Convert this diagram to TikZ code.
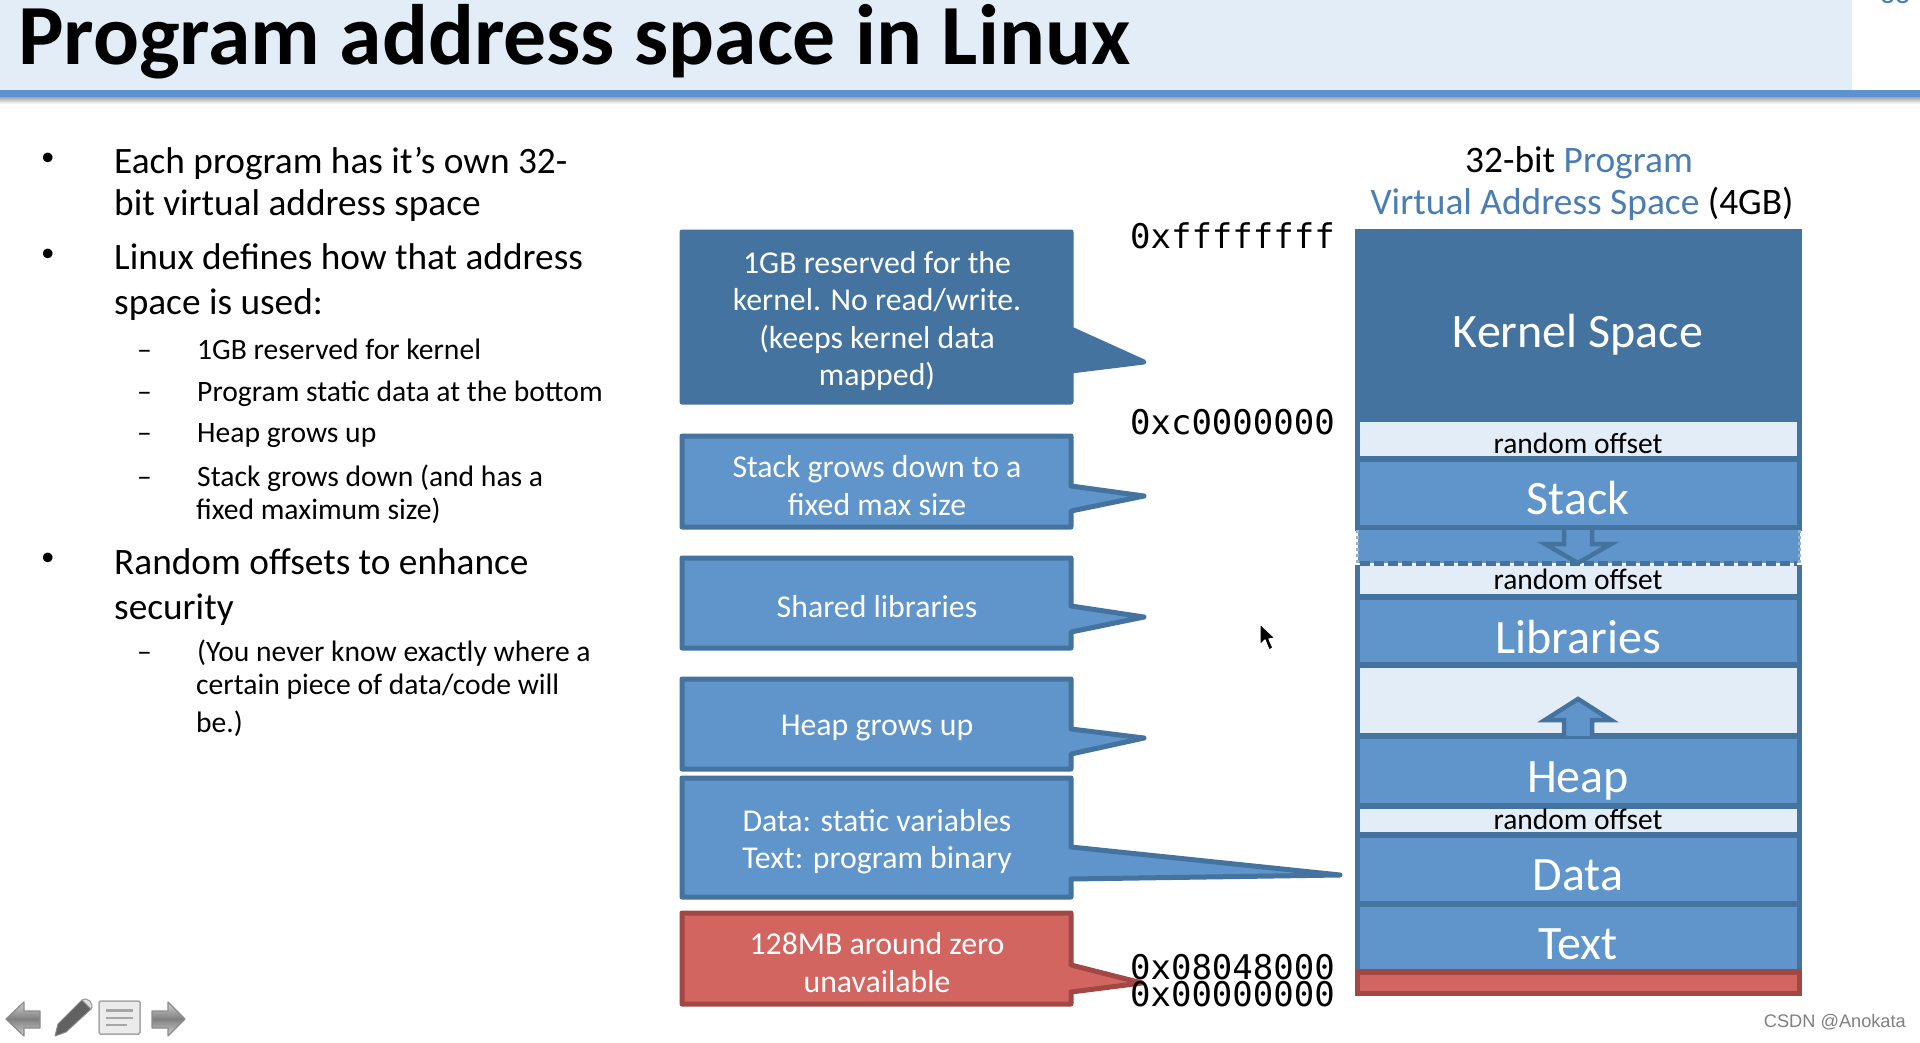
\documentclass[tikz,border=0pt]{standalone}
\usepackage{fontspec}
\setmainfont{Carlito}
\newfontfamily\addrfont{DejaVu Sans Mono}
\newfontfamily\markfont{Liberation Sans}
\definecolor{bandlight}{HTML}{E3EDF7}
\definecolor{bmid}{HTML}{5F95CB}
\definecolor{bdark}{HTML}{44739F}
\definecolor{rmid}{HTML}{D36561}
\definecolor{rdark}{HTML}{A14744}
\definecolor{titleblue}{HTML}{5B92CF}
\definecolor{txtblue}{HTML}{4A7EB3}
\tikzset{
  calloutblue/.style={fill=bmid,draw=bdark,line width=5,line join=round},
  calloutdark/.style={fill=bdark,draw=bdark,line width=5,line join=round},
  calloutred/.style={fill=rmid,draw=rdark,line width=5,line join=round},
  callouttext/.style={text=white,align=center,inner sep=0,font=\fontsize{31.8}{37.6}\selectfont},
  memfill/.style={fill=bmid,draw=bdark,line width=5.5},
  memgap/.style={fill=bandlight,draw=bdark,line width=5.5},
  memlabel/.style={text=white,inner sep=0,anchor=base,yshift=-16.2pt,font=\fontsize{48}{52}\selectfont},
  gaplabel/.style={text=black,inner sep=0,anchor=base,yshift=-10.4pt,font=\fontsize{29.5}{32}\selectfont},
  addr/.style={inner sep=0,anchor=base east,yshift=-12.4pt,font=\addrfont\fontsize{34}{36}\selectfont},
  headline/.style={inner sep=0,anchor=base,yshift=-13.2pt,font=\fontsize{37.4}{40}\selectfont},
  bigline/.style={inner sep=0,anchor=base west,yshift=-13.2pt,font=\fontsize{37.3}{40}\selectfont},
  bulletmark/.style={inner sep=0,anchor=base west,yshift=-8.7pt,font=\fontsize{27}{30}\selectfont},
  smallline/.style={inner sep=0,anchor=base west,yshift=-10.4pt,font=\fontsize{29.6}{32}\selectfont},
  navicon/.style={draw=black!45,line width=1.2,top color=black!18,bottom color=black!18,middle color=black!50,line join=round},
}
% name, ytop, ybot, tail top, tail bottom, tip x, tip y, style, text
\newcommand{\mycallout}[9]{%
  \path[#8] (682,#2) -- (1071,#2) -- (1071,#4) -- (#6,#7) -- (1071,#5) -- (1071,#3) -- (682,#3) -- cycle;
  \node[callouttext] (#1) at (877,{(#2+#3)/2+4}) {#9};
}
\begin{document}
\begin{tikzpicture}[x=1pt,y=-1pt]
\useasboundingbox (0,0) rectangle (1920,1042);
\fill[white] (0,0) rectangle (1920,1042);
% title band
\fill[bandlight] (0,0) rectangle (1852,90);
\shade[top color=black!35,bottom color=white] (0,97) rectangle (1920,104);
\fill[titleblue] (0,90) rectangle (1920,97);
\node[inner sep=0,anchor=base west,font=\bfseries\fontsize{85.7}{88}\selectfont] (title) at (18,64) {Program address space in Linux};
\begin{scope}
\clip (1870,0) rectangle (1920,5);
\node[inner sep=0,text=txtblue,font=\fontsize{30}{32}\selectfont] (pagenum) at (1895,-7) {38};
\end{scope}
% left text
\node[bulletmark] (b1) at (41,157) {•};
\node[bigline] (l1) at (114,160) {Each program has it’s own 32-};
\node[bigline] (l2) at (114,202) {bit virtual address space};
\node[bulletmark] (b2) at (41,253) {•};
\node[bigline] (l3) at (114,256) {Linux defines how that address};
\node[bigline] (l4) at (114,301) {space is used:};
\node[smallline] (d1) at (137,349) {–};
\node[smallline] (s1) at (197,349) {1GB reserved for kernel};
\node[smallline] (d2) at (137,391) {–};
\node[smallline] (s2) at (197,391) {Program static data at the bottom};
\node[smallline] (d3) at (137,432) {–};
\node[smallline] (s3) at (197,432) {Heap grows up};
\node[smallline] (d4) at (137,476) {–};
\node[smallline] (s4) at (197,476) {Stack grows down (and has a};
\node[smallline] (s5) at (196,509) {fixed maximum size)};
\node[bulletmark] (b3) at (41,557) {•};
\node[bigline] (l5) at (114,561) {Random offsets to enhance};
\node[bigline] (l6) at (114,606) {security};
\node[smallline] (d5) at (137,651) {–};
\node[smallline] (s6) at (197,651) {(You never know exactly where a};
\node[smallline] (s7) at (196,684) {certain piece of data/code will};
\node[smallline] (s8) at (196,722) {be.)};
% callouts
\mycallout{c1}{232}{402}{329}{371}{1144}{362}{calloutdark}{1GB reserved for the\\kernel. No read/write.\\(keeps kernel data\\mapped)}
\mycallout{c2}{436}{527}{486}{511}{1144}{496}{calloutblue}{Stack grows down to a\\fixed max size}
\mycallout{c3}{558}{648}{606}{632}{1144}{617}{calloutblue}{Shared libraries}
\mycallout{c4}{679}{769}{729}{754}{1144}{738}{calloutblue}{Heap grows up}
\mycallout{c5}{778}{897}{847}{879}{1340}{875}{calloutblue}{Data: static variables\\Text: program binary}
\mycallout{c6}{913}{1004}{965}{992}{1142}{983}{calloutred}{128MB around zero\\unavailable}
% addresses
\node[addr] (a1) at (1335,236) {0xffffffff};
\node[addr] (a2) at (1335,422) {0xc0000000};
\node[addr] (a3) at (1335,967) {0x08048000};
\node[addr] (a4) at (1335,994) {0x00000000};
% header
\node[headline] (h1) at (1579,159) {32-bit \textcolor{txtblue}{Program}};
\node[headline] (h2) at (1582,201) {\textcolor{txtblue}{Virtual Address Space} (4GB)};
% memory column
\path[fill=bdark,draw=bdark,line width=5.5] (1357.5,232) rectangle (1799.5,422);
\path[memgap] (1357.5,419.5) rectangle (1799.5,459);
\path[memfill] (1357.5,459) rectangle (1799.5,528);
\fill[bmid] (1357.5,530) rectangle (1799.5,563);
\draw[bdark!55!white,line width=3,dashed] (1357.5,530) -- (1357.5,563) (1799.5,530) -- (1799.5,563);
\path[fill=bandlight] (1357.5,565) rectangle (1799.5,597);
\draw[bdark,line width=5.5] (1355,597) -- (1802,597);
\draw[bdark,line width=5.5] (1357.5,565) -- (1357.5,597) (1799.5,565) -- (1799.5,597);
\path[fill=bandlight,draw=bdark,line width=5.5] (1357.5,665) rectangle (1799.5,736);
\path[memfill] (1357.5,597) rectangle (1799.5,665);
\path[memfill] (1357.5,736) rectangle (1799.5,806);
\path[memgap] (1357.5,806) rectangle (1799.5,835);
\path[memfill] (1357.5,835) rectangle (1799.5,904);
\path[memfill] (1357.5,904) rectangle (1799.5,972);
\path[fill=rmid,draw=rdark,line width=5.5] (1357.5,972) rectangle (1799.5,993.5);
% growth arrows
\path[fill=bmid,draw=bdark,line width=4.5,line join=miter] (1564,530) -- (1564,544) -- (1545,544) -- (1578,563) -- (1611,544) -- (1592,544) -- (1592,530);
\draw[bdark,line width=5,dash pattern=on 10pt off 4pt] (1360,563) -- (1797,563);
\path[fill=bmid,draw=bdark,line width=4.5,line join=miter] (1564,736) -- (1564,720) -- (1545,720) -- (1578,699) -- (1611,720) -- (1592,720) -- (1592,736);
% memory labels
\node[memlabel] (kernel) at (1578,331) {Kernel Space};
\node[gaplabel] (g1) at (1578,443) {random offset};
\node[memlabel] (stack) at (1578,498) {Stack};
\node[gaplabel] (g2) at (1578,579) {random offset};
\node[memlabel] (libs) at (1578,637) {Libraries};
\node[memlabel] (heap) at (1578,776) {Heap};
\node[gaplabel] (g3) at (1578,819) {random offset};
\node[memlabel] (data) at (1578,874) {Data};
\node[memlabel] (text) at (1578,943) {Text};
% cursor
\path[fill=black,draw=white,line width=1.2,line join=round] (1260,624) -- (1260,645) -- (1265,640) -- (1269,650) -- (1273,648) -- (1269,639) -- (1275,638) -- cycle;
% nav icons
\path[navicon] (6,1019) -- (24,1002) -- (24,1011) -- (40,1011) -- (40,1028) -- (24,1028) -- (24,1036) -- cycle;
\path[navicon] (185,1019) -- (168,1002) -- (168,1011) -- (152,1011) -- (152,1028) -- (168,1028) -- (168,1036) -- cycle;
\path[fill=black!62,draw=black!45,line width=1,line join=round] (55,1036) -- (58,1024) -- (82,1000) -- (91,1009) -- (66,1032) -- cycle;
\path[fill=black!12,draw=black!40,line width=1,line join=round] (82,1000) .. controls (86,996) and (95,1003) .. (91,1009) -- cycle;
\path[fill=black!8,draw=black!35,line width=1.5,rounded corners=1.5] (99,1001) rectangle (140,1034);
\fill[black!35] (106,1009) rectangle (133,1012);
\fill[black!35] (106,1017) rectangle (133,1019);
\fill[black!35] (106,1024) rectangle (127,1026);
% watermark
\node[inner sep=0,anchor=mid east,text=black!50,font=\markfont\fontsize{18.2}{20}\selectfont] (mark) at (1906,1025) {CSDN @Anokata};
\end{tikzpicture}
\end{document}
